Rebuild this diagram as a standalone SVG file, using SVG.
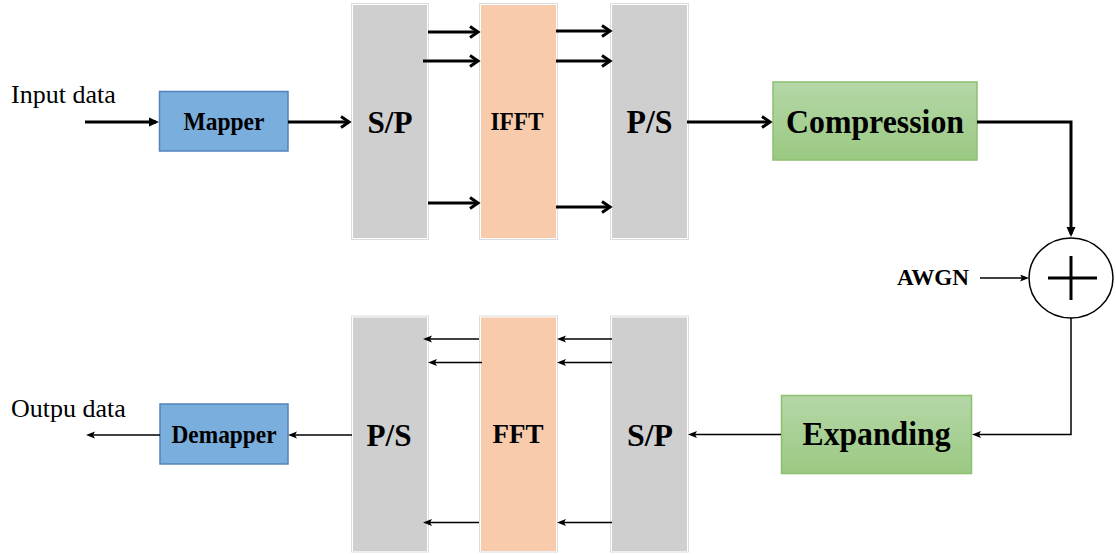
<svg xmlns="http://www.w3.org/2000/svg" width="1116" height="554" viewBox="0 0 1116 554">
<defs>
<linearGradient id="grn" x1="0" y1="0" x2="0" y2="1">
<stop offset="0" stop-color="#b5d7a8"/>
<stop offset="1" stop-color="#9bc982"/>
</linearGradient>
<marker id="chev" markerWidth="16" markerHeight="16" refX="11" refY="8" orient="auto" markerUnits="userSpaceOnUse">
<path d="M3,2.5 L11,8 L3,13.5" fill="none" stroke="#000" stroke-width="3"/>
</marker>
<marker id="triB" markerWidth="12" markerHeight="12" refX="7" refY="5" orient="auto" markerUnits="userSpaceOnUse">
<path d="M0,0.5 L10,5 L0,9.5 Z" fill="#000"/>
</marker>
<marker id="triS" markerWidth="12" markerHeight="10" refX="2" refY="3.5" orient="auto" markerUnits="userSpaceOnUse">
<path d="M0,0 L9,3.5 L0,7 L2,3.5 Z" fill="#000"/>
</marker>
</defs>
<style>
.col-out{fill:#fff;stroke:#dcdcdc;stroke-width:1}
.gray{fill:#d0cfd0}
.peach{fill:#f8cbad}
.blue{fill:#7aaedc;stroke:#5582bb;stroke-width:1.5}
.green{fill:url(#grn);stroke:#8cc06e;stroke-width:1.5}
.lbl{font-family:"Liberation Serif","Times New Roman",serif;font-size:26px;fill:#000}
.b{font-family:"Liberation Serif","Times New Roman",serif;font-weight:bold;fill:#000;text-anchor:middle}
.thick{fill:none;stroke:#000;stroke-width:3}
.thin{fill:none;stroke:#000;stroke-width:1.5}
</style>

<g id="input-label"><text class="lbl" x="11" y="103">Input data</text></g>
<g id="output-label"><text class="lbl" x="11" y="417">Outpu data</text></g>

<g id="mapper">
<rect class="blue" x="159.5" y="91.5" width="128.5" height="59.5"/>
<text class="b" x="224" y="129.5" font-size="25" textLength="81" lengthAdjust="spacingAndGlyphs">Mapper</text>
</g>

<g id="sp-top">
<rect class="col-out" x="351.5" y="3.5" width="77" height="236"/>
<rect class="gray" x="353" y="5" width="74" height="233"/>
<text class="b" x="390" y="133" font-size="32" textLength="45" lengthAdjust="spacingAndGlyphs">S/P</text>
</g>

<g id="ifft">
<rect class="col-out" x="479.5" y="3.5" width="78" height="236"/>
<rect class="peach" x="481" y="5" width="75" height="233"/>
<text class="b" x="517" y="130" font-size="25" textLength="53" lengthAdjust="spacingAndGlyphs">IFFT</text>
</g>

<g id="ps-top">
<rect class="col-out" x="610.5" y="3.5" width="78" height="236"/>
<rect class="gray" x="612" y="5" width="75" height="233"/>
<text class="b" x="649.5" y="133" font-size="33" textLength="46" lengthAdjust="spacingAndGlyphs">P/S</text>
</g>

<g id="compression">
<rect class="green" x="773" y="82" width="204" height="78"/>
<text class="b" x="875" y="133" font-size="34" textLength="178" lengthAdjust="spacingAndGlyphs">Compression</text>
</g>

<g id="adder">
<ellipse cx="1071" cy="278" rx="42" ry="40" fill="#fff" stroke="#000" stroke-width="1.5"/>
<line x1="1048" y1="278" x2="1097" y2="278" stroke="#000" stroke-width="3"/>
<line x1="1071" y1="256" x2="1071" y2="300" stroke="#000" stroke-width="3"/>
</g>

<g id="awgn"><text class="b" x="933" y="285" font-size="23" textLength="72" lengthAdjust="spacingAndGlyphs">AWGN</text></g>

<g id="expanding">
<rect class="green" x="781.5" y="395.5" width="190" height="78"/>
<text class="b" x="876.5" y="445" font-size="33" textLength="148" lengthAdjust="spacingAndGlyphs">Expanding</text>
</g>

<g id="sp-bottom">
<rect class="col-out" x="610.5" y="316" width="78" height="236"/>
<rect class="gray" x="612" y="317.5" width="75" height="233.5"/>
<text class="b" x="650" y="446" font-size="32" textLength="46" lengthAdjust="spacingAndGlyphs">S/P</text>
</g>

<g id="fft">
<rect class="col-out" x="479.5" y="316" width="78" height="236"/>
<rect class="peach" x="481" y="317.5" width="75" height="233.5"/>
<text class="b" x="518" y="443" font-size="27" textLength="51" lengthAdjust="spacingAndGlyphs">FFT</text>
</g>

<g id="ps-bottom">
<rect class="col-out" x="351.5" y="316" width="77" height="236"/>
<rect class="gray" x="353" y="317.5" width="74" height="233.5"/>
<text class="b" x="389" y="446" font-size="32" textLength="45" lengthAdjust="spacingAndGlyphs">P/S</text>
</g>

<g id="demapper">
<rect class="blue" x="160" y="404" width="128" height="60"/>
<text class="b" x="224" y="443" font-size="25" textLength="105" lengthAdjust="spacingAndGlyphs">Demapper</text>
</g>

<g id="connectors">
<line class="thick" x1="85" y1="122" x2="156" y2="122" marker-end="url(#triB)"/>
<line class="thick" x1="288" y1="122" x2="349" y2="122" marker-end="url(#chev)"/>
<line class="thick" x1="428" y1="32" x2="478" y2="32" marker-end="url(#chev)"/>
<line class="thick" x1="423" y1="61" x2="478" y2="61" marker-end="url(#chev)"/>
<line class="thick" x1="428" y1="203" x2="478" y2="203" marker-end="url(#chev)"/>
<line class="thick" x1="556" y1="31" x2="610" y2="31" marker-end="url(#chev)"/>
<line class="thick" x1="556" y1="61" x2="610" y2="61" marker-end="url(#chev)"/>
<line class="thick" x1="556" y1="207" x2="610" y2="207" marker-end="url(#chev)"/>
<line class="thick" x1="687" y1="122" x2="770" y2="122" marker-end="url(#chev)"/>
<polyline class="thick" points="977,122 1071,122 1071,234" marker-end="url(#triB)"/>
<line class="thin" x1="980" y1="278" x2="1022" y2="278" marker-end="url(#triS)"/>
<polyline class="thin" points="1071,318 1071,434.5 979,434.5" marker-end="url(#triS)"/>
<line class="thin" x1="781" y1="434.5" x2="695" y2="434.5" marker-end="url(#triS)"/>
<line class="thin" x1="612" y1="339" x2="564" y2="339" marker-end="url(#triS)"/>
<line class="thin" x1="612" y1="362.5" x2="564" y2="362.5" marker-end="url(#triS)"/>
<line class="thin" x1="612" y1="522.5" x2="564" y2="522.5" marker-end="url(#triS)"/>
<line class="thin" x1="479" y1="339" x2="430" y2="339" marker-end="url(#triS)"/>
<line class="thin" x1="482" y1="362.5" x2="435" y2="362.5" marker-end="url(#triS)"/>
<line class="thin" x1="479" y1="522.5" x2="430" y2="522.5" marker-end="url(#triS)"/>
<line class="thin" x1="352" y1="435" x2="295" y2="435" marker-end="url(#triS)"/>
<line class="thin" x1="160" y1="435" x2="93" y2="435" marker-end="url(#triS)"/>
</g>
</svg>
